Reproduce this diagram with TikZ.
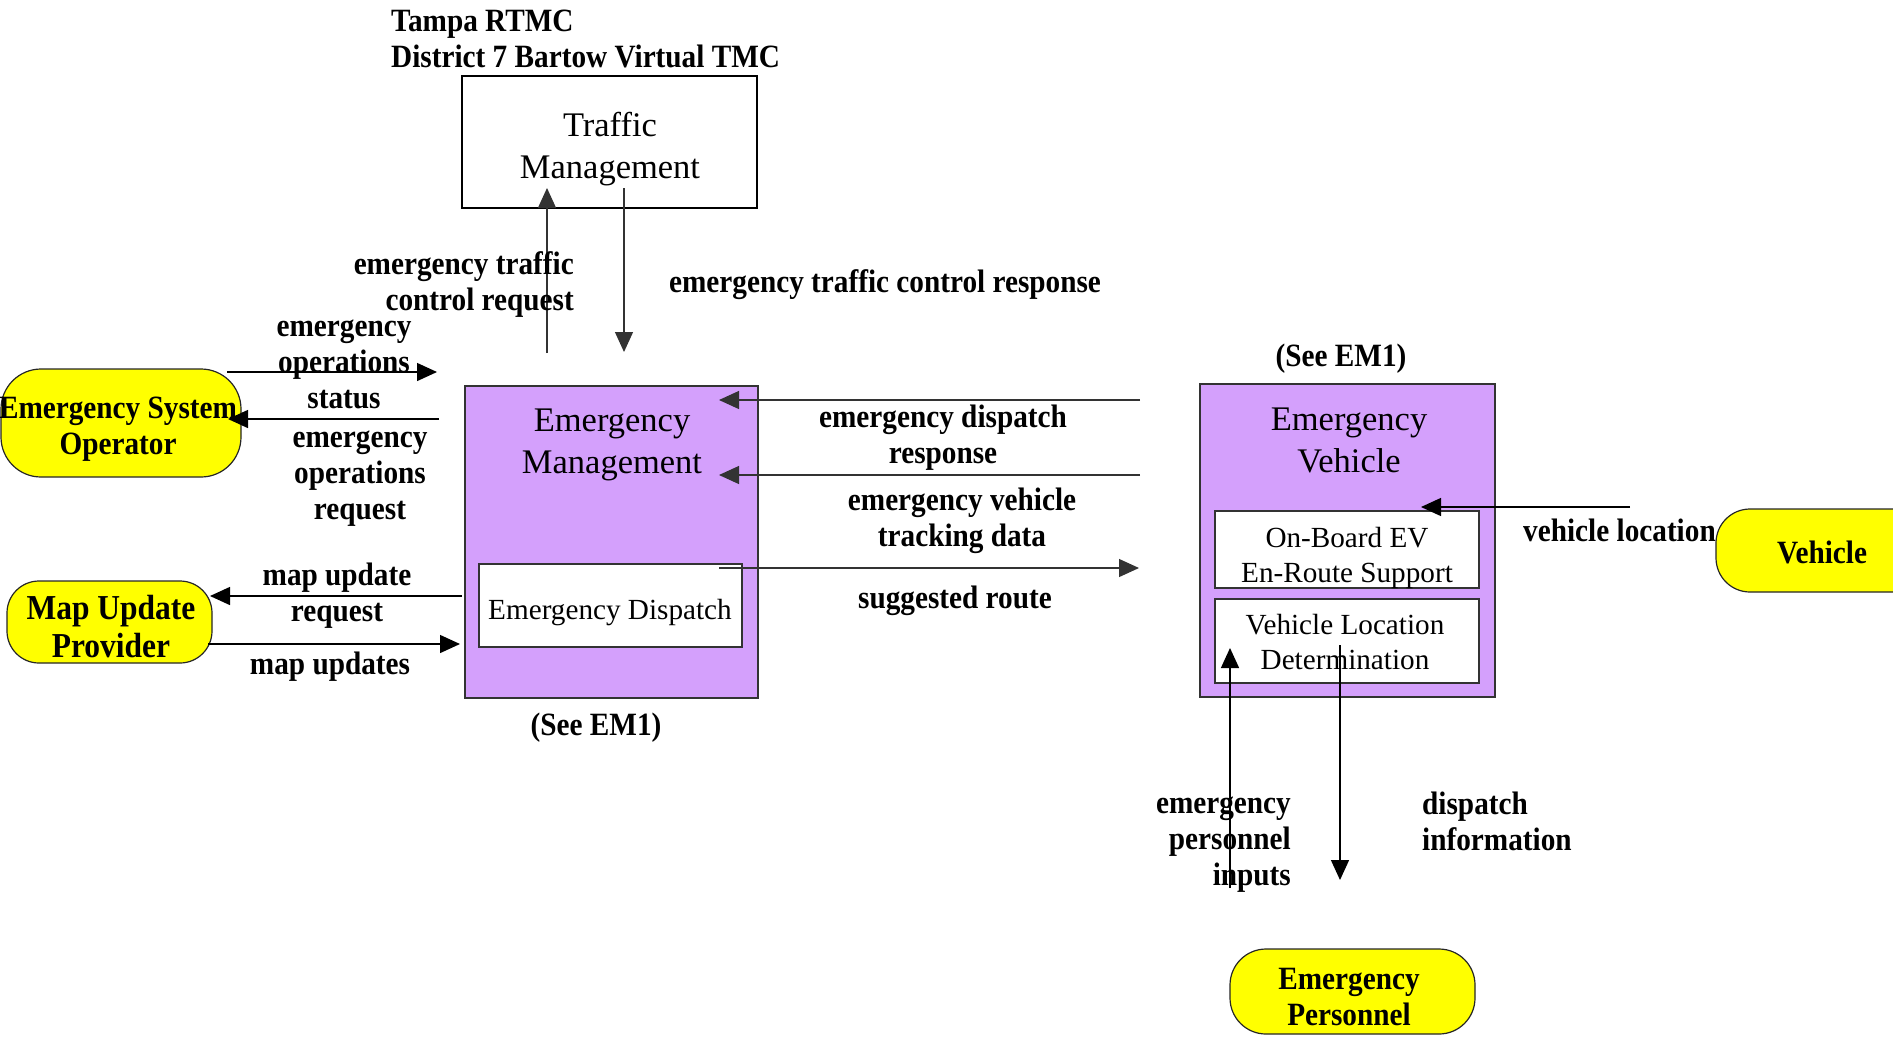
\documentclass[tikz,border=0pt]{standalone}
\usepackage{fontspec}
\setmainfont{Liberation Serif}
\newfontfamily\lblfont{Liberation Serif}[FakeStretch=0.9]
\usetikzlibrary{arrows.meta}
\definecolor{lav}{RGB}{212,160,252}
\definecolor{yel}{RGB}{255,255,0}
\begin{document}
\begin{tikzpicture}[x=1pt,y=-1pt,
  lbl/.style={font=\lblfont\bfseries\fontsize{32.5}{36}\selectfont, inner sep=0pt, align=center},
  reg/.style={font=\fontsize{34.5}{42}\selectfont, inner sep=0pt, align=center},
  small/.style={font=\fontsize{29.2}{35}\selectfont, inner sep=0pt, align=center},
  purplebox/.style={draw=black!80, line width=1.2pt, fill=lav, inner sep=0pt},
  whitebox/.style={draw=black!80, line width=1.2pt, fill=white, inner sep=0pt},
  term/.style={draw=black!85, line width=1.2pt, fill=yel, rounded corners=36pt, inner sep=0pt},
  flow/.style={line width=1.4pt, -{Triangle[length=20pt,width=18pt]}},
  thinflow/.style={line width=1.2pt, draw=black!80, -{Triangle[length=20pt,width=18pt]}}
]
\useasboundingbox (0,0) rectangle (1893,1037);
\clip (0,0) rectangle (1893,1037);

% title
\node[lbl, anchor=west, align=left] (title) at (391,39) {Tampa RTMC\\District 7 Bartow Virtual TMC};

% traffic management
\node[draw=black, line width=1.2pt, minimum width=295pt, minimum height=132pt, inner sep=0pt] (tm) at (609.5,142) {};
\node[reg] (tmt) at (610,149.5) {Traffic\\Management};

% emergency management
\node[purplebox, minimum width=293pt, minimum height=312pt] (em) at (611.5,542) {};
\node[reg] (emt) at (612,445) {Emergency\\Management};
\node[whitebox, minimum width=263pt, minimum height=83pt] (ed) at (610.5,605.5) {};
\node[small] (edt) at (610,613) {Emergency Dispatch};
\node[lbl] (see1) at (596,728) {(See EM1)};

% emergency vehicle
\node[purplebox, minimum width=295pt, minimum height=313pt] (ev) at (1347.5,540.5) {};
\node[reg] (evt) at (1349,440) {Emergency\\Vehicle};
\node[whitebox, minimum width=264pt, minimum height=77pt] (ob) at (1347,549.5) {};
\node[small] (obt) at (1347,558) {On-Board EV\\En-Route Support};
\node[whitebox, minimum width=264pt, minimum height=84pt] (vl) at (1347,641) {};
\node[small] (vlt) at (1345,642) {Vehicle Location\\Determination};
\node[lbl] (see2) at (1341,359) {(See EM1)};

% terminators
\node[term, minimum width=240pt, minimum height=108pt, rounded corners=40pt] (eso) at (121,423) {};
\node[lbl] (esot) at (118,429) {Emergency System\\Operator};
\node[term, minimum width=205pt, minimum height=82pt, rounded corners=32pt] (mup) at (109.5,622) {};
\node[lbl, font=\lblfont\bfseries\fontsize{35}{38}\selectfont] (mupt) at (111,627) {Map Update\\Provider};
\node[term, minimum width=234pt, minimum height=83pt, rounded corners=34pt] (veh) at (1833,550.5) {};
\node[lbl] (veht) at (1822,552) {Vehicle};
\node[term, minimum width=245pt, minimum height=85pt, rounded corners=36pt] (ep) at (1352.5,991.5) {};
\node[lbl] (ept) at (1349,997) {Emergency\\Personnel};

% connector end points
\coordinate (a1s) at (547,353); \coordinate (a1e) at (547,188);
\coordinate (a2s) at (624,188); \coordinate (a2e) at (624,352);
\coordinate (a3s) at (227,372); \coordinate (a3e) at (437,372);
\coordinate (a4s) at (439,419); \coordinate (a4e) at (228,419);
\coordinate (a5s) at (462,596); \coordinate (a5e) at (210,596);
\coordinate (a6s) at (208,644); \coordinate (a6e) at (460,644);
\coordinate (a7s) at (1140,400); \coordinate (a7e) at (719,400);
\coordinate (a8s) at (1140,475); \coordinate (a8e) at (719,475);
\coordinate (a9s) at (719,568); \coordinate (a9e) at (1139,568);
\coordinate (a10s) at (1630,507); \coordinate (a10e) at (1421,507);
\coordinate (a11s) at (1230,888); \coordinate (a11e) at (1230,648);
\coordinate (a12s) at (1340,645); \coordinate (a12e) at (1340,880);

% connectors
\draw[thinflow] (a1s) -- (a1e);
\draw[thinflow] (a2s) -- (a2e);
\draw[flow] (a3s) -- (a3e);
\draw[flow] (a4s) -- (a4e);
\draw[flow] (a5s) -- (a5e);
\draw[flow] (a6s) -- (a6e);
\draw[thinflow] (a7s) -- (a7e);
\draw[thinflow] (a8s) -- (a8e);
\draw[thinflow] (a9s) -- (a9e);
\draw[flow] (a10s) -- (a10e);
\draw[flow] (a11s) -- (a11e);
\draw[flow] (a12s) -- (a12e);

% labels
\node[lbl, anchor=east, align=right] (l1) at (574,285) {emergency traffic\\control request};
\node[lbl] (l2) at (885,285) {emergency traffic control response};
\node[lbl] (l3) at (344,364) {emergency\\operations\\status};
\node[lbl] (l4) at (360,479) {emergency\\operations\\request};
\node[lbl] (l5) at (337,596) {map update\\request};
\node[lbl] (l6) at (330,667) {map updates};
\node[lbl] (l7) at (943,438) {emergency dispatch\\response};
\node[lbl] (l8) at (962,521) {emergency vehicle\\tracking data};
\node[lbl] (l9) at (955,601) {suggested route};
\node[lbl, anchor=west] (l10) at (1523,530) {vehicle location};
\node[lbl, anchor=east, align=right] (l11) at (1291,845) {emergency\\personnel\\inputs};
\node[lbl, anchor=west, align=left] (l12) at (1422,821) {dispatch\\information};
\end{tikzpicture}
\end{document}
